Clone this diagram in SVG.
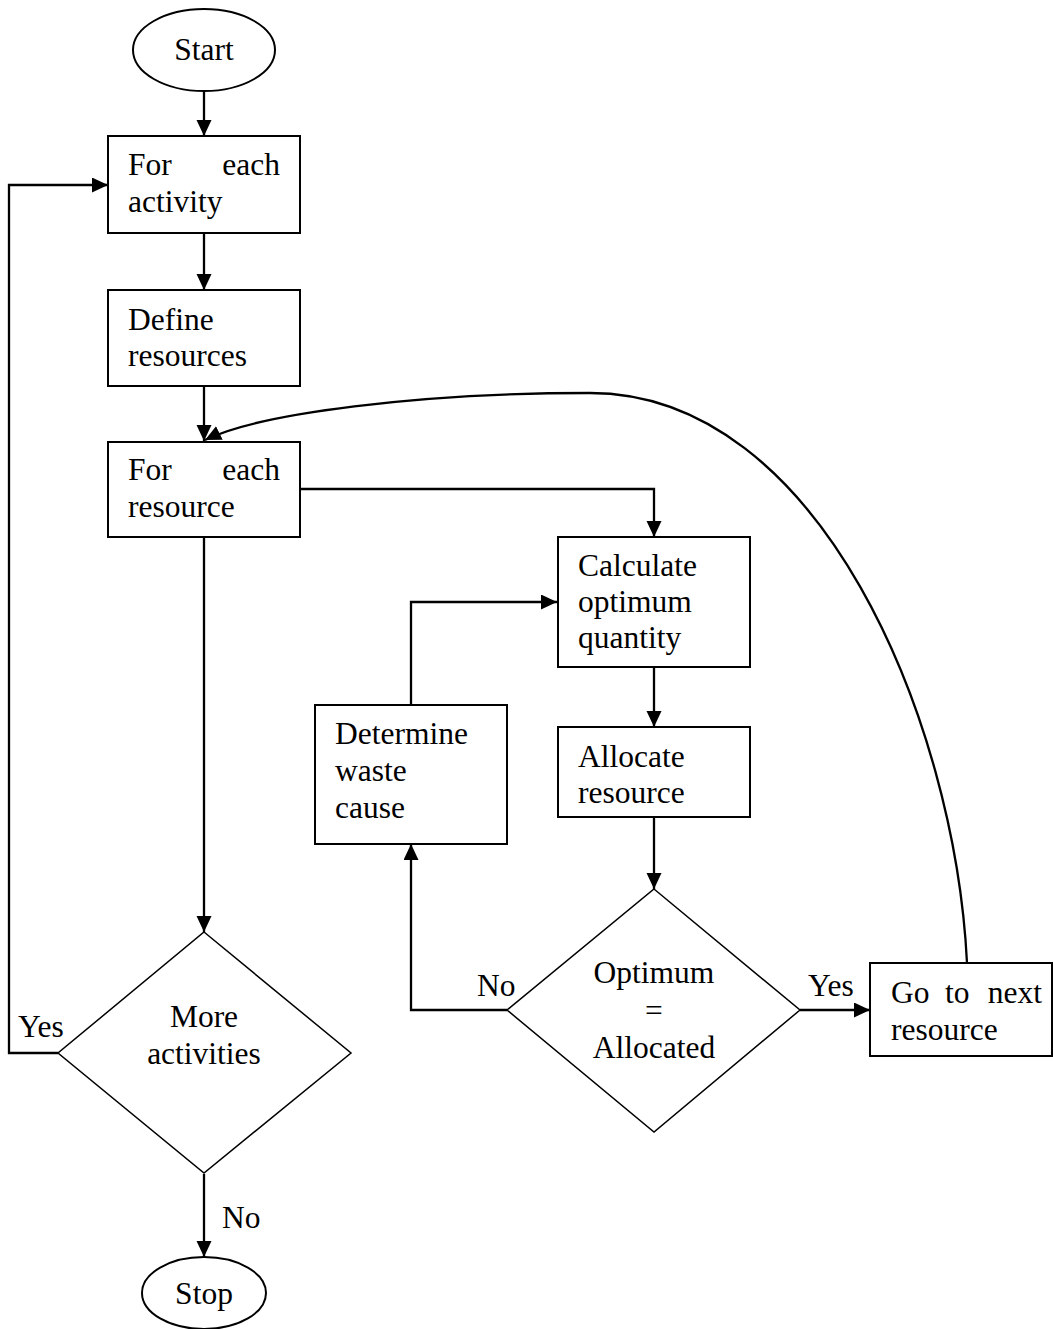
<svg xmlns="http://www.w3.org/2000/svg" width="1053" height="1329" viewBox="0 0 1053 1329">
<style>
.n{fill:#fff;stroke:#000;stroke-width:2}
.d{fill:#fff;stroke:#000;stroke-width:1.5}
.c{fill:none;stroke:#000;stroke-width:2.3}
text{font-family:"Liberation Serif","Times New Roman",serif;font-size:31.5px;fill:#000}
.m{text-anchor:middle}
</style>
<defs>
<marker id="ah" markerWidth="18" markerHeight="16" refX="16" refY="7.5" orient="auto" markerUnits="userSpaceOnUse">
<path d="M0,0 L16,7.5 L0,15 Z" fill="#000"/>
</marker>
</defs>
<g id="connectors">
<path class="c" d="M204 92 V136" marker-end="url(#ah)"/>
<path class="c" d="M204 233 V290" marker-end="url(#ah)"/>
<path class="c" d="M204 386 V441" marker-end="url(#ah)"/>
<path class="c" d="M204 537 V932" marker-end="url(#ah)"/>
<path class="c" d="M204 1174 V1257" marker-end="url(#ah)"/>
<path class="c" d="M58 1053 H9 V185 H108" marker-end="url(#ah)"/>
<path class="c" d="M300 489 H654 V537" marker-end="url(#ah)"/>
<path class="c" d="M654 667 V727" marker-end="url(#ah)"/>
<path class="c" d="M654 817 V889" marker-end="url(#ah)"/>
<path class="c" d="M411 705 V602 H557" marker-end="url(#ah)"/>
<path class="c" d="M507 1010 H411 V844" marker-end="url(#ah)"/>
<path class="c" d="M800 1010 H870" marker-end="url(#ah)"/>
<path class="c" d="M967 963 C955 720 820 393 590 393 C420 393 260 413 205 440" marker-end="url(#ah)"/>
</g>
<g id="start">
<ellipse class="n" cx="204" cy="50" rx="71" ry="41"/>
<text class="m" x="204" y="60">Start</text>
</g>
<g id="each-activity">
<rect class="n" x="108" y="136" width="192" height="97"/>
<text x="128" y="175">For<tspan x="280" text-anchor="end">each</tspan></text>
<text x="128" y="212">activity</text>
</g>
<g id="define-resources">
<rect class="n" x="108" y="290" width="192" height="96"/>
<text x="128" y="330">Define</text>
<text x="128" y="366">resources</text>
</g>
<g id="each-resource">
<rect class="n" x="108" y="442" width="192" height="95"/>
<text x="128" y="480">For<tspan x="280" text-anchor="end">each</tspan></text>
<text x="128" y="517">resource</text>
</g>
<g id="calculate">
<rect class="n" x="558" y="537" width="192" height="130"/>
<text x="578" y="576">Calculate</text>
<text x="578" y="612">optimum</text>
<text x="578" y="648">quantity</text>
</g>
<g id="allocate">
<rect class="n" x="558" y="727" width="192" height="90"/>
<text x="578" y="767">Allocate</text>
<text x="578" y="803">resource</text>
</g>
<g id="determine">
<rect class="n" x="315" y="705" width="192" height="139"/>
<text x="335" y="744">Determine</text>
<text x="335" y="781">waste</text>
<text x="335" y="818">cause</text>
</g>
<g id="optimum-decision">
<polygon class="d" points="654,889 800,1010 654,1132 507,1010"/>
<text class="m" x="654" y="983">Optimum</text>
<text class="m" x="654" y="1021">=</text>
<text class="m" x="654" y="1058">Allocated</text>
</g>
<g id="next-resource">
<rect class="n" x="870" y="963" width="182" height="93"/>
<text x="891" y="1003">Go<tspan x="945">to</tspan><tspan x="1042" text-anchor="end">next</tspan></text>
<text x="891" y="1040">resource</text>
</g>
<g id="more-activities">
<polygon class="d" points="204,932 351,1053 204,1173 58,1053"/>
<text class="m" x="204" y="1027">More</text>
<text class="m" x="204" y="1064">activities</text>
</g>
<g id="stop">
<ellipse class="n" cx="204" cy="1293" rx="62" ry="36"/>
<text class="m" x="204" y="1304">Stop</text>
</g>
<g id="labels">
<text x="18" y="1037">Yes</text>
<text x="222" y="1228">No</text>
<text x="477" y="996">No</text>
<text x="808" y="996">Yes</text>
</g>
</svg>
